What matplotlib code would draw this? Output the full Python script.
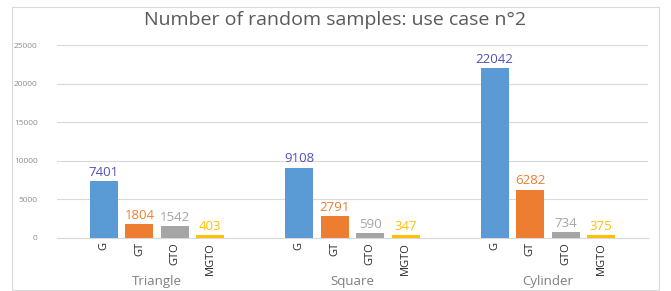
import matplotlib
matplotlib.use("Agg")
import matplotlib.pyplot as plt
from matplotlib.patches import Rectangle

groups = ["Triangle", "Square", "Cylinder"]
methods = ["G", "GT", "GTO", "MGTO"]
G = [7401, 9108, 22042]
GT = [1804, 2791, 6282]
GTO = [1542, 590, 734]
MGTO = [403, 347, 375]
series = [G, GT, GTO, MGTO]
yticks = [0, 5000, 10000, 15000, 20000, 25000]

bar_colors = ["#5B9BD5", "#ED7D31", "#A5A5A5", "#FFC000"]
label_colors = ["#5050B8", "#ED7D31", "#A5A5A5", "#FFC000"]

plt.rcParams['font.family'] = ['Open Sans', 'DejaVu Sans']

W, H = 671, 291
fig = plt.figure(figsize=(W / 100, H / 100), dpi=100)
fig.patches.append(Rectangle((12 / W, 1 - 290 / H), (659 - 12) / W, (290 - 7) / H,
                             transform=fig.transFigure, fill=False,
                             edgecolor="#D9D9D9", linewidth=0.8))
ax = fig.add_axes([57 / W, 1 - 238 / H, (648 - 57) / W, (238 - 45) / H])

group_step = 5.5
width = 0.79
xticks = []
xlabels = []
for gi, g in enumerate(groups):
    base = gi * group_step
    for mi, m in enumerate(methods):
        x = base + mi
        v = series[mi][gi]
        ax.bar(x, v, width=width, color=bar_colors[mi], zorder=3)
        ax.text(x, v + 300, str(v), ha="center", va="bottom",
                color=label_colors[mi], fontsize=9.5)
        xticks.append(x)
        xlabels.append(m)
    ax.text(base + 1.5, -0.19, g, transform=ax.get_xaxis_transform(),
            ha="center", va="top", fontsize=9.5, color="#7F7F7F", clip_on=False)

ax.set_xticks(xticks)
ax.set_xticklabels(xlabels, rotation=90, fontsize=8, color="#262626")
ax.tick_params(axis="x", length=0, pad=3)
ax.set_xlim(-1.32, 3 + 2 * group_step + 1.32)
ax.set_ylim(0, 25000)
ax.set_yticks(yticks)
ax.set_yticklabels([str(t) for t in yticks], fontsize=6, color="#8C8C8C")
ax.tick_params(axis="y", length=0, pad=14)
ax.grid(axis="y", color="#D9D9D9", linewidth=0.8, zorder=0)
for s in ["top", "right", "left"]:
    ax.spines[s].set_visible(False)
ax.spines["bottom"].set_color("#D9D9D9")
ax.spines["bottom"].set_linewidth(0.8)

fig.text(335 / W, 1 - 20 / H, "Number of random samples: use case n°2",
         ha="center", va="center", fontsize=14, color="#595959")

fig.savefig("out.png", dpi=100, facecolor="white")
